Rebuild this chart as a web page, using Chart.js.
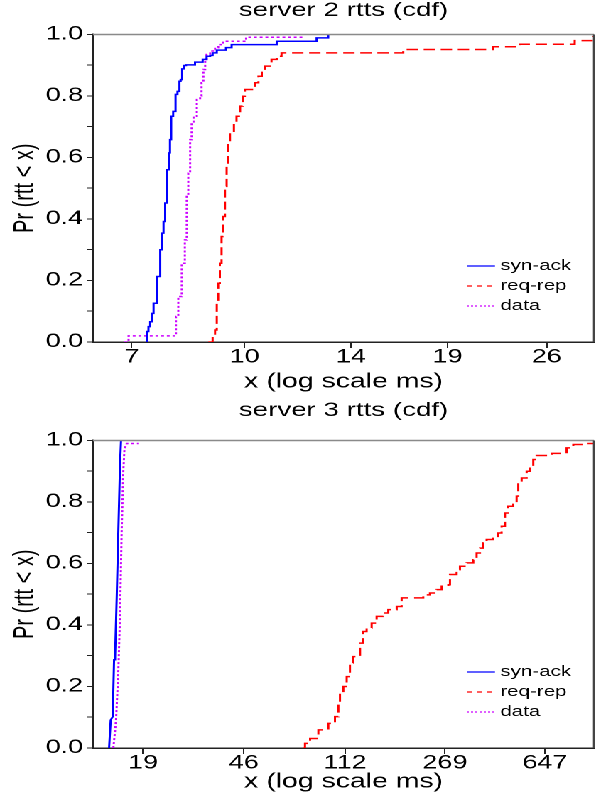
<!DOCTYPE html>
<html>
<head>
<meta charset="utf-8">
<script src="https://cdn.jsdelivr.net/npm/chart.js@4.4.1/dist/chart.umd.min.js"></script>
<style>
  html, body { margin: 0; padding: 0; background: #fff; overflow: hidden; }
  #wrap { position: absolute; left: 0; top: 0; width: 423px; height: 800px;
          transform: scaleX(1.42080); transform-origin: 0 0; }
  .panel { position: relative; width: 423px; height: 400px; }
</style>
</head>
<body>
<div id="wrap">
  <div class="panel"><canvas id="c1"></canvas></div>
  <div class="panel"><canvas id="c2"></canvas></div>
</div>
<script>
// ---------- data ----------
const SERIES_LABELS = ['syn-ack', 'req-rep', 'data'];

// server 2
const s2Ticks   = [7, 10, 14, 19, 26];
const s2SynAckX = [7.34, 7.34, 7.38, 7.42, 7.47, 7.50, 7.58, 7.66, 7.70, 7.74, 7.78, 7.83, 7.87, 7.90, 7.93, 7.98, 8.04, 8.09, 8.14, 8.17, 8.21, 8.26, 8.31, 8.55, 8.76, 8.87, 8.97, 9.04, 9.16, 9.43, 9.60, 11.07, 12.56, 13.03];
const s2SynAckP = [0, 0.034, 0.05, 0.066, 0.093, 0.126, 0.213, 0.30, 0.354, 0.392, 0.452, 0.56, 0.615, 0.658, 0.734, 0.75, 0.805, 0.815, 0.848, 0.853, 0.888, 0.899, 0.901, 0.91, 0.919, 0.929, 0.932, 0.94, 0.949, 0.957, 0.967, 0.978, 0.989, 1.0];
const s2ReqRepX = [8.92, 9.04, 9.11, 9.16, 9.20, 9.25, 9.30, 9.35, 9.40, 9.45, 9.50, 9.55, 9.67, 9.75, 9.86, 9.94, 10.01, 10.34, 10.45, 10.56, 10.67, 10.89, 11.07, 11.24, 16.52, 21.95, 23.88, 28.41, 30.11];
const s2ReqRepP = [0, 0.023, 0.039, 0.126, 0.191, 0.256, 0.343, 0.408, 0.506, 0.582, 0.647, 0.680, 0.712, 0.734, 0.767, 0.799, 0.821, 0.843, 0.864, 0.881, 0.897, 0.919, 0.929, 0.940, 0.951, 0.960, 0.968, 0.980, 0.995];
const s2DataX   = [6.84, 6.93, 8.05, 8.11, 8.20, 8.28, 8.33, 8.37, 8.42, 8.46, 8.51, 8.60, 8.69, 8.73, 8.78, 8.83, 8.87, 8.97, 9.11, 9.20, 9.35, 10.05, 12.04];
const s2DataP   = [0, 0.02, 0.083, 0.148, 0.256, 0.332, 0.473, 0.549, 0.658, 0.712, 0.734, 0.788, 0.799, 0.843, 0.886, 0.919, 0.935, 0.946, 0.957, 0.967, 0.978, 0.991, 0.991];

// server 3
const s3Ticks   = [19, 46, 112, 269, 647];
const s3SynAckX = [14.10, 14.30, 14.56, 14.73, 14.86, 15.08, 15.30, 15.53, 15.66];
const s3SynAckP = [0, 0.091, 0.102, 0.287, 0.297, 0.493, 0.710, 0.927, 1.0];
const s3ReqRepX = [77.6, 78.7, 82.3, 88.5, 96.6, 102.4, 105.5, 107.0, 110.2, 113.5, 116.8, 120.3, 127.6, 131.3, 135.2, 141.3, 147.6, 156.5, 163.5, 176.0, 183.8, 222.3, 235.7, 249.9, 261.2, 276.9, 281.0, 297.9, 306.7, 325.2, 344.8, 355.0, 365.6, 376.4, 387.6, 411.0, 429.4, 442.1, 455.3, 468.8, 489.8, 504.3, 511.8, 527.0, 550.6, 567.0, 583.8, 601.1, 685.7, 782.1, 829.2, 905.3, 994];
const s3ReqRepP = [0, 0.015, 0.031, 0.059, 0.080, 0.102, 0.146, 0.178, 0.200, 0.232, 0.276, 0.297, 0.341, 0.379, 0.390, 0.406, 0.428, 0.439, 0.450, 0.460, 0.488, 0.498, 0.504, 0.515, 0.526, 0.531, 0.564, 0.580, 0.591, 0.602, 0.612, 0.634, 0.650, 0.667, 0.678, 0.688, 0.699, 0.721, 0.764, 0.786, 0.792, 0.819, 0.862, 0.878, 0.900, 0.916, 0.938, 0.951, 0.958, 0.976, 0.987, 0.990, 0.990];
const s3DataX   = [14.64, 14.99, 15.30, 15.53, 15.75, 15.99, 16.13, 16.46, 18.23];
const s3DataP   = [0, 0.091, 0.254, 0.439, 0.710, 0.906, 0.971, 0.990, 0.990];

// ---------- styles ----------
const STYLES = [
  { color: '#0000ff', width: 1.5, dash: [],     legendDash: [] },
  { color: '#ff0000', width: 1.5, dash: [8, 4], legendDash: [4, 3] },
  { color: '#cc00ff', width: 1.5, dash: [2, 2], legendDash: [1.5, 1.5] }
];

Chart.defaults.font.family = '"Liberation Sans", Arial, sans-serif';
Chart.defaults.color = '#000';

const framePlugin = {
  id: 'frame',
  afterDraw(chart) {
    const { ctx, chartArea: a } = chart;
    ctx.save();
    ctx.lineWidth = 1.5;
    ctx.strokeStyle = '#8a8a8a';
    ctx.beginPath(); ctx.moveTo(a.left, a.top); ctx.lineTo(a.right, a.top); ctx.stroke();
    ctx.strokeStyle = '#444';
    ctx.beginPath(); ctx.moveTo(a.right, a.top); ctx.lineTo(a.right, a.bottom); ctx.stroke();
    ctx.restore();
  }
};

const insideLegend = {
  id: 'insideLegend',
  afterDatasetsDraw(chart) {
    const { ctx, chartArea: a } = chart;
    ctx.save();
    chart.data.datasets.forEach((ds, i) => {
      const y = a.bottom - 76 + i * 20;
      ctx.strokeStyle = ds.borderColor;
      ctx.lineWidth = 1.3;
      ctx.setLineDash(STYLES[i].legendDash);
      ctx.beginPath(); ctx.moveTo(a.right - 89.6, y); ctx.lineTo(a.right - 69.7, y); ctx.stroke();
      ctx.setLineDash([]);
      ctx.fillStyle = '#000';
      ctx.font = '14.5px "Liberation Sans", Arial, sans-serif';
      ctx.textAlign = 'left';
      ctx.textBaseline = 'middle';
      ctx.fillText(ds.label, a.right - 66, y);
    });
    ctx.restore();
  }
};

function makeChart(id, cfg) {
  const datasets = cfg.series.map((s, i) => ({
    label: SERIES_LABELS[i],
    data: s.x.map((v, k) => ({ x: v, y: s.p[k] })),
    borderColor: STYLES[i].color,
    borderWidth: STYLES[i].width,
    borderDash: STYLES[i].dash,
    stepped: s.stepped,
    pointRadius: 0,
    fill: false,
    tension: 0
  }));
  return new Chart(document.getElementById(id), {
    type: 'line',
    data: { datasets },
    plugins: [framePlugin, insideLegend],
    options: {
      responsive: true,
      maintainAspectRatio: false,
      animation: false,
      devicePixelRatio: 2,
      events: [],
      layout: { padding: { left: 0, right: 4.9, top: 0, bottom: 0 } },
      plugins: {
        legend: { display: false },
        tooltip: { enabled: false },
        title: {
          display: true, text: cfg.title, color: '#000', fullSize: false,
          font: { size: 19.5, weight: 'normal', lineHeight: 1.1 },
          padding: { top: 0, bottom: cfg.titleGap }
        }
      },
      scales: {
        x: {
          type: 'logarithmic', min: cfg.xMin, max: cfg.xMax,
          afterBuildTicks: s => { s.ticks = cfg.ticks.map(v => ({ value: v })); },
          afterFit: s => { s.height = cfg.xAxisH; },
          ticks: { autoSkip: false, maxRotation: 0, minRotation: 0, padding: 0, color: '#000',
                   font: { size: 19, lineHeight: 1 }, callback: v => String(v) },
          grid: { display: true, drawOnChartArea: false, drawTicks: true, tickLength: 6, tickColor: '#222', tickWidth: 1 },
          border: { display: true, color: '#222', width: 1.5 },
          title: { display: true, text: 'x (log scale ms)', color: '#000', font: { size: 20 }, padding: { top: 0, bottom: 6 } }
        },
        y: {
          type: 'linear', min: 0, max: 1,
          afterFit: s => { s.width = 65.5; },
          ticks: { stepSize: 0.1, autoSkip: false, padding: 3, color: '#000',
                   font: { size: 19, lineHeight: 1 },
                   callback: v => { const k = Math.round(v * 10); return k % 2 === 0 ? (k / 10).toFixed(1) : ''; } },
          grid: { display: true, drawOnChartArea: false, drawTicks: true, tickLength: 4, tickColor: '#222', tickWidth: 1 },
          border: { display: true, color: '#222', width: 1.5 },
          title: { display: true, text: 'Pr (rtt < x)', color: '#000', font: { size: 20 }, padding: { top: 6, bottom: 0 } }
        }
      }
    }
  });
}

makeChart('c1', {
  title: 'server 2 rtts (cdf)', titleGap: 13, xAxisH: 58,
  xMin: 6.194, xMax: 30.2, ticks: s2Ticks,
  series: [ { x: s2SynAckX, p: s2SynAckP, stepped: true },
            { x: s2ReqRepX, p: s2ReqRepP, stepped: true },
            { x: s2DataX,   p: s2DataP,   stepped: true } ]
});
makeChart('c2', {
  title: 'server 3 rtts (cdf)', titleGap: 19, xAxisH: 52,
  xMin: 12.25, xMax: 995, ticks: s3Ticks,
  series: [ { x: s3SynAckX, p: s3SynAckP, stepped: false },
            { x: s3ReqRepX, p: s3ReqRepP, stepped: true },
            { x: s3DataX,   p: s3DataP,   stepped: false } ]
});
</script>
</body>
</html>
